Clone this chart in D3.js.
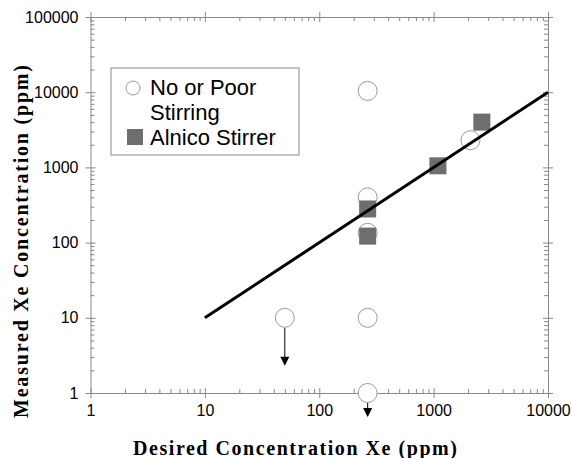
<!DOCTYPE html>
<html>
<head>
<meta charset="utf-8">
<script src="https://cdn.jsdelivr.net/npm/d3@7"></script>
<style>
  body { margin: 0; background: #fff; }
  .tick text { font-family: "Liberation Sans", Arial, sans-serif; font-size: 16px; fill: #000; }
  .axis path, .axis line { stroke: #888; }
</style>
</head>
<body>
<div id="chart"></div>
<script>
// data
var poorX = [50, 265, 265, 265, 265, 265, 2100]
var poorY = [10, 10400, 400, 135, 10, 1, 2300]
var alnicoX = [265, 265, 1090, 2640]
var alnicoY = [280, 122, 1050, 4000]
var fitX = [10, 10000]
var fitY = [10, 10000]
// upper limits: arrow from point down to value
var limitX = [50, 265]
var limitY = [10, 1]
var limitTo = [2.3, 0.48]
var xTicks = [1, 10, 100, 1000, 10000]
var yTicks = [1, 10, 100, 1000, 10000, 100000]

var width = 572
var height = 458

var svg = d3.select('#chart').append('svg')
  .attr('width', width)
  .attr('height', height)

var x = d3.scaleLog().domain([1, 10000]).range([90.5, 548])
var y = d3.scaleLog().domain([1, 100000]).range([393, 17])

function minors(ticks) {
  var out = []
  for (var i = 0; i < ticks.length - 1; i++) {
    for (var k = 2; k <= 9; k++) out.push(ticks[i] * k)
  }
  return out
}

// major ticks cross the axis line
function crossTicks(g, horiz) {
  g.selectAll('.tick line')
    .attr(horiz ? 'y1' : 'x1', -5)
    .attr(horiz ? 'y2' : 'x2', 5)
}

// bottom
var gx = svg.append('g').attr('class', 'axis')
  .attr('transform', 'translate(0,393)')
  .call(d3.axisBottom(x).tickValues(xTicks).tickFormat(function(d){ return d })
    .tickSize(5).tickSizeOuter(0).tickPadding(7))
crossTicks(gx, true)
svg.append('g').attr('class', 'axis')
  .attr('transform', 'translate(0,393)')
  .call(d3.axisBottom(x).tickValues(minors(xTicks)).tickFormat('').tickSize(-4).tickSizeOuter(0))
  .select('.domain').remove()

// top
var gt = svg.append('g').attr('class', 'axis')
  .attr('transform', 'translate(0,17)')
  .call(d3.axisTop(x).tickValues(xTicks).tickFormat('').tickSize(5).tickSizeOuter(0))
crossTicks(gt, true)
svg.append('g').attr('class', 'axis')
  .attr('transform', 'translate(0,17)')
  .call(d3.axisTop(x).tickValues(minors(xTicks)).tickFormat('').tickSize(-4).tickSizeOuter(0))
  .select('.domain').remove()

// left
var gy = svg.append('g').attr('class', 'axis')
  .attr('transform', 'translate(90.5,0)')
  .call(d3.axisLeft(y).tickValues(yTicks).tickFormat(function(d){ return d })
    .tickSize(5).tickSizeOuter(0).tickPadding(7))
crossTicks(gy, false)
svg.append('g').attr('class', 'axis')
  .attr('transform', 'translate(90.5,0)')
  .call(d3.axisLeft(y).tickValues(minors(yTicks)).tickFormat('').tickSize(-4).tickSizeOuter(0))
  .select('.domain').remove()

// right
var gr = svg.append('g').attr('class', 'axis')
  .attr('transform', 'translate(548,0)')
  .call(d3.axisRight(y).tickValues(yTicks).tickFormat('').tickSize(5).tickSizeOuter(0))
crossTicks(gr, false)
svg.append('g').attr('class', 'axis')
  .attr('transform', 'translate(548,0)')
  .call(d3.axisRight(y).tickValues(minors(yTicks)).tickFormat('').tickSize(-4).tickSizeOuter(0))
  .select('.domain').remove()

svg.selectAll('.axis .domain').attr('stroke', '#888')

// axis titles
svg.append('text')
  .attr('x', 133).attr('y', 455)
  .attr('textLength', 324).attr('lengthAdjust', 'spacing')
  .style('font-family', '"Liberation Serif", "Times New Roman", serif')
  .style('font-weight', 'bold').style('font-size', '20px')
  .text('Desired Concentration Xe  (ppm)')

svg.append('text')
  .attr('transform', 'translate(28,418) rotate(-90)')
  .attr('textLength', 353).attr('lengthAdjust', 'spacing')
  .style('font-family', '"Liberation Serif", "Times New Roman", serif')
  .style('font-weight', 'bold').style('font-size', '20px')
  .text('Measured Xe Concentration (ppm)')

// arrows for upper limits
var arrows = svg.append('g')
limitX.forEach(function(v, i) {
  var cx = x(v)
  var top = y(limitY[i]) + 10
  var tip = y(limitTo[i])
  arrows.append('line')
    .attr('x1', cx).attr('x2', cx)
    .attr('y1', top).attr('y2', tip - 7)
    .attr('stroke', '#000').attr('stroke-width', 1)
  arrows.append('path')
    .attr('d', 'M' + (cx - 4.5) + ',' + (tip - 9) + 'L' + (cx + 4.5) + ',' + (tip - 9) + 'L' + cx + ',' + tip + 'Z')
    .attr('fill', '#000')
})

// open circles
svg.selectAll('.poor')
  .data(poorX.map(function(d, i){ return { x: d, y: poorY[i] } }))
  .enter().append('circle')
  .attr('class', 'poor')
  .attr('cx', function(d){ return x(d.x) })
  .attr('cy', function(d){ return y(d.y) })
  .attr('r', 9.5)
  .attr('fill', '#fff')
  .attr('stroke', '#9a9a9a')
  .attr('stroke-width', 1)

// filled squares
var s = 17
svg.selectAll('.alnico')
  .data(alnicoX.map(function(d, i){ return { x: d, y: alnicoY[i] } }))
  .enter().append('rect')
  .attr('class', 'alnico')
  .attr('x', function(d){ return x(d.x) - s / 2 })
  .attr('y', function(d){ return y(d.y) - s / 2 })
  .attr('width', s).attr('height', s)
  .attr('fill', '#6e6e6e')

// fit line
svg.append('path')
  .datum(fitX.map(function(d, i){ return [d, fitY[i]] }))
  .attr('d', d3.line().x(function(d){ return x(d[0]) }).y(function(d){ return y(d[1]) }))
  .attr('stroke', '#000').attr('stroke-width', 3).attr('fill', 'none')

// legend
var leg = svg.append('g')
leg.append('rect')
  .attr('x', 111).attr('y', 68).attr('width', 188).attr('height', 87)
  .attr('fill', '#fff').attr('stroke', '#888')
leg.append('circle')
  .attr('cx', 133).attr('cy', 88).attr('r', 7)
  .attr('fill', '#fff').attr('stroke', '#9a9a9a')
leg.append('rect')
  .attr('x', 127).attr('y', 129).attr('width', 16).attr('height', 16)
  .attr('fill', '#6e6e6e')
var legText = [['No or Poor', 95], ['Stirring', 120], ['Alnico Stirrer', 145]]
legText.forEach(function(t) {
  leg.append('text')
    .attr('x', 150).attr('y', t[1])
    .style('font-family', '"Liberation Sans", Arial, sans-serif')
    .style('font-size', '22px')
    .text(t[0])
})
</script>
</body>
</html>
